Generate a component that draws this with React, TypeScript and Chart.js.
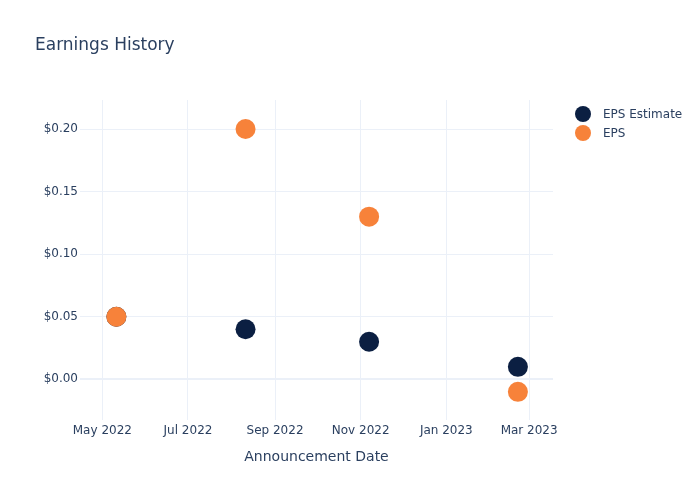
import React, { useEffect, useRef } from "react";
import { Chart, registerables } from "chart.js";

Chart.register(...registerables);

const announcementDates = ["2022-05-11", "2022-08-11", "2022-11-07", "2023-02-21"];
const epsEstimate = [0.05, 0.04, 0.03, 0.01];
const epsActual = [0.05, 0.2, 0.13, -0.01];
const xTickDates = ["2022-05-01", "2022-07-01", "2022-09-01", "2022-11-01", "2023-01-01", "2023-03-01"];
const xTickLabels = ["May 2022", "Jul 2022", "Sep 2022", "Nov 2022", "Jan 2023", "Mar 2023"];
const yTickValues = [0, 0.05, 0.1, 0.15, 0.2];
const xRange = ["2022-04-15T02:00:00Z", "2023-03-18T00:00:00Z"];
const yRange = [-0.0325, 0.2232];

const NAVY = "#0b1f42";
const ORANGE = "#f7823a";
const TEXT = "#2a3f5f";
const GRID = "#ebf0f8";
const FONT = "'DejaVu Sans', sans-serif";

const t = (s: string) => new Date(s.length === 10 ? s + "T00:00:00Z" : s).getTime();

const overlay = {
  id: "overlay",
  afterDraw(chart: any) {
    const ctx = chart.ctx;
    ctx.save();
    ctx.fillStyle = TEXT;
    ctx.textBaseline = "alphabetic";
    ctx.textAlign = "left";
    ctx.font = `17px ${FONT}`;
    ctx.fillText("Earnings History", 35, 50);
    ctx.font = `14px ${FONT}`;
    ctx.textAlign = "center";
    const ca = chart.chartArea;
    ctx.fillText("Announcement Date", (ca.left + ca.right) / 2, 461);
    const items = [
      { label: "EPS Estimate", color: NAVY },
      { label: "EPS", color: ORANGE },
    ];
    ctx.font = `12px ${FONT}`;
    ctx.textAlign = "left";
    ctx.textBaseline = "middle";
    items.forEach((it, i) => {
      const y = 114 + i * 19;
      ctx.beginPath();
      ctx.arc(583, y, 8, 0, Math.PI * 2);
      ctx.fillStyle = it.color;
      ctx.fill();
      ctx.fillStyle = TEXT;
      ctx.fillText(it.label, 603, y + 1);
    });
    ctx.restore();
  },
};

export default function App() {
  const ref = useRef<HTMLCanvasElement>(null);
  useEffect(() => {
    document.body.style.margin = "0";
    const canvas = ref.current!;
    const chart = new Chart(canvas, {
      type: "scatter",
      data: {
        datasets: [
          {
            label: "EPS Estimate",
            data: announcementDates.map((d, i) => ({ x: t(d), y: epsEstimate[i] })),
            backgroundColor: NAVY,
            borderColor: NAVY,
            borderWidth: 0,
            pointRadius: 10,
            pointHoverRadius: 10,
            order: 1,
          },
          {
            label: "EPS",
            data: announcementDates.map((d, i) => ({ x: t(d), y: epsActual[i] })),
            backgroundColor: ORANGE,
            borderColor: ORANGE,
            borderWidth: 0,
            pointRadius: 10,
            pointHoverRadius: 10,
            order: 0,
          },
        ],
      },
      options: {
        animation: false,
        responsive: false,
        maintainAspectRatio: false,
        layout: { padding: { left: 0, right: 147, top: 100, bottom: 0 } },
        plugins: { legend: { display: false }, title: { display: false }, tooltip: { enabled: false } },
        scales: {
          x: {
            type: "linear",
            min: t(xRange[0]),
            max: t(xRange[1]),
            border: { display: false },
            grid: { color: GRID, lineWidth: 1, drawTicks: false },
            afterBuildTicks: (scale: any) => {
              scale.ticks = xTickDates.map((d) => ({ value: t(d) }));
            },
            afterFit: (scale: any) => {
              scale.height = 80;
            },
            ticks: {
              autoSkip: false,
              maxRotation: 0,
              padding: 4,
              color: TEXT,
              font: { family: FONT, size: 12 },
              callback: (v: any) => {
                const idx = xTickDates.findIndex((d) => t(d) === v);
                return idx >= 0 ? xTickLabels[idx] : "";
              },
            },
          },
          y: {
            type: "linear",
            min: yRange[0],
            max: yRange[1],
            border: { display: false },
            grid: {
              color: GRID,
              drawTicks: false,
              lineWidth: (c: any) => (c.tick && Math.abs(c.tick.value) < 1e-9 ? 2 : 1),
            },
            afterBuildTicks: (scale: any) => {
              scale.ticks = yTickValues.map((v) => ({ value: v }));
            },
            afterFit: (scale: any) => {
              scale.width = 80;
            },
            ticks: {
              padding: 2,
              color: TEXT,
              font: { family: FONT, size: 12 },
              callback: (v: any) => "$" + Number(v).toFixed(2),
            },
          },
        },
      },
      plugins: [overlay],
    });
    return () => chart.destroy();
  }, []);
  return (
    <div style={{ position: "absolute", left: 0, top: 0, width: 700, height: 500, background: "#fff" }}>
      <canvas ref={ref} width={700} height={500} style={{ width: 700, height: 500 }} />
    </div>
  );
}
